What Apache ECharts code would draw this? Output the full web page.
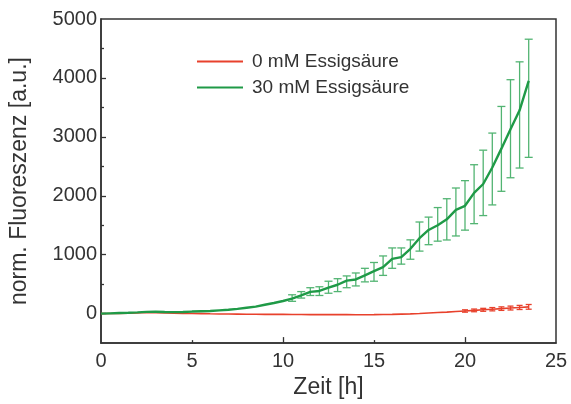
<!DOCTYPE html>
<html>
<head>
<meta charset="utf-8">
<script src="https://cdn.jsdelivr.net/npm/echarts@6/dist/echarts.min.js"></script>
<style>
  html, body { margin: 0; padding: 0; background: #fff; }
  #chart { width: 571px; height: 404px; }
</style>
</head>
<body>
<div id="chart"></div>
<script>
// time points of the curves (h)
const times = [0, 0.5, 1, 1.5, 2, 2.5, 3, 3.5, 4, 4.5, 5, 5.5, 6, 6.5, 7, 7.5, 8, 8.5, 9, 9.5,
  10, 10.5, 11, 11.5, 12, 12.5, 13, 13.5, 14, 14.5, 15, 15.5, 16, 16.5, 17, 17.5, 18, 18.5, 19, 19.5,
  20, 20.5, 21, 21.5, 22, 22.5, 23, 23.5];

// 30 mM Essigsäure (green)
const greenValues = [0, 5, 10, 15, 22, 30, 32, 28, 25, 28, 35, 40, 45, 55, 65, 80, 100, 120, 150, 180,
  215, 255, 310, 370, 385, 440, 490, 560, 580, 650, 720, 790, 930, 960, 1100, 1280, 1420, 1500, 1600, 1760,
  1830, 2050, 2200, 2480, 2800, 3130, 3450, 3950];

// 0 mM Essigsäure (red)
const redValues = [0, 2, 5, 8, 12, 20, 15, 10, 8, 5, 3, 0, -3, -5, -6, -8, -10, -10, -12, -12,
  -12, -14, -15, -16, -16, -16, -17, -17, -18, -18, -17, -15, -12, -8, -4, 2, 10, 18, 25, 35,
  45, 55, 65, 75, 85, 95, 105, 115];

// error bars, green
const greenErrTimes = [10.5, 11, 11.5, 12, 12.5, 13, 13.5, 14, 14.5, 15, 15.5, 16, 16.5, 17, 17.5,
  18, 18.5, 19, 19.5, 20, 20.5, 21, 21.5, 22, 22.5, 23, 23.5];
const greenErrLow = [209, 264, 308, 308, 346, 374, 440, 470, 539, 550, 649, 769, 840, 923, 1061,
  1170, 1230, 1250, 1318, 1417, 1527, 1664, 1845, 2076, 2306, 2471, 2652];
const greenErrHigh = [320, 374, 440, 456, 550, 593, 640, 690, 769, 868, 979, 1115, 1115, 1252, 1555,
  1638, 1800, 1950, 2132, 2257, 2527, 2774, 3064, 3516, 3970, 4273, 4657];

// error bars, red
const redErrTimes = [20, 20.5, 21, 21.5, 22, 22.5, 23, 23.5];
const redErrLow = [25, 32, 40, 47, 55, 62, 70, 75];
const redErrHigh = [65, 78, 90, 103, 115, 128, 140, 155];

const xLabels = [0, 5, 10, 15, 20, 25];
const yLabels = [0, 1000, 2000, 3000, 4000, 5000];

const GREEN = '#1f9a47';
const GREEN_ERR = '#52b472';
const RED = '#e8412c';
const TEXT = '#333';

function errorBars(color, cap) {
  return function (params, api) {
    const t = api.value(0);
    const lo = api.coord([t, api.value(1)]);
    const hi = api.coord([t, api.value(2)]);
    const c = cap / 2;
    const style = {stroke: color, lineWidth: 1.3};
    return {
      type: 'group',
      children: [
        {type: 'line', shape: {x1: lo[0], y1: lo[1], x2: hi[0], y2: hi[1]}, style: style},
        {type: 'line', shape: {x1: lo[0] - c, y1: lo[1], x2: lo[0] + c, y2: lo[1]}, style: style},
        {type: 'line', shape: {x1: hi[0] - c, y1: hi[1], x2: hi[0] + c, y2: hi[1]}, style: style}
      ]
    };
  };
}

const chart = echarts.init(document.getElementById('chart'));

chart.setOption({
  animation: false,
  backgroundColor: '#fff',
  textStyle: {fontFamily: 'Liberation Sans, Arial, sans-serif'},
  grid: {
    left: 97, right: 15, top: 19, bottom: 51,
    show: true, borderColor: TEXT, borderWidth: 1.5
  },
  legend: {
    data: ['0 mM Essigsäure', '30 mM Essigsäure'],
    orient: 'vertical',
    left: 192,
    top: 47,
    icon: 'rect',
    itemWidth: 46,
    itemHeight: 2,
    itemGap: 7,
    textStyle: {fontSize: 19, color: TEXT, padding: [0, 0, 0, 4]}
  },
  xAxis: [{
    type: 'value', min: 0, max: 25, interval: 5,
    name: 'Zeit [h]', nameLocation: 'middle', nameGap: 27,
    nameTextStyle: {fontSize: 23, color: TEXT},
    axisLine: {onZero: false, lineStyle: {color: TEXT, width: 1.5}},
    axisTick: {inside: true, length: 6, customValues: [10, 20], lineStyle: {color: TEXT, width: 1.3}},
    axisLabel: {fontSize: 20, color: TEXT, margin: 8, customValues: xLabels},
    splitLine: {show: false}
  }, {
    type: 'value', min: 0, max: 25, position: 'bottom',
    axisLine: {show: false, onZero: false},
    axisTick: {inside: true, length: 3, customValues: [5, 15], lineStyle: {color: TEXT, width: 1.3}},
    axisLabel: {show: false},
    splitLine: {show: false}
  }],
  yAxis: [{
    type: 'value', min: -500, max: 5000, interval: 500,
    name: 'norm. Fluoreszenz [a.u.]', nameLocation: 'middle', nameGap: 70,
    nameTextStyle: {fontSize: 23, color: TEXT},
    axisLine: {show: true, onZero: false, lineStyle: {color: TEXT, width: 1.5}},
    axisTick: {inside: true, length: 5, customValues: [0, 1000, 2000, 3000, 4000], lineStyle: {color: TEXT, width: 1.3}},
    axisLabel: {fontSize: 20, color: TEXT, margin: 4, customValues: yLabels, formatter: v => String(v)},
    splitLine: {show: false}
  }, {
    type: 'value', min: -500, max: 5000, interval: 500, position: 'left',
    axisLine: {show: false, onZero: false},
    axisTick: {inside: true, length: 3, customValues: [500, 1500, 2500, 3500, 4500], lineStyle: {color: TEXT, width: 1.3}},
    axisLabel: {show: false},
    splitLine: {show: false}
  }],
  series: [{
    name: '0 mM Essigsäure',
    type: 'line',
    showSymbol: false,
    color: RED,
    lineStyle: {width: 1.6, color: RED},
    data: times.map((t, i) => [t, redValues[i]]),
    z: 3
  }, {
    name: 'red-err',
    type: 'custom',
    renderItem: errorBars(RED, 6),
    encode: {x: 0, y: [1, 2]},
    data: redErrTimes.map((t, i) => [t, redErrLow[i], redErrHigh[i]]),
    z: 2
  }, {
    name: '30 mM Essigsäure',
    type: 'line',
    showSymbol: false,
    color: GREEN,
    lineStyle: {width: 2.4, color: GREEN},
    data: times.map((t, i) => [t, greenValues[i]]),
    z: 4
  }, {
    name: 'green-err',
    type: 'custom',
    renderItem: errorBars(GREEN_ERR, 8),
    encode: {x: 0, y: [1, 2]},
    data: greenErrTimes.map((t, i) => [t, greenErrLow[i], greenErrHigh[i]]),
    z: 2
  }]
});
</script>
</body>
</html>
